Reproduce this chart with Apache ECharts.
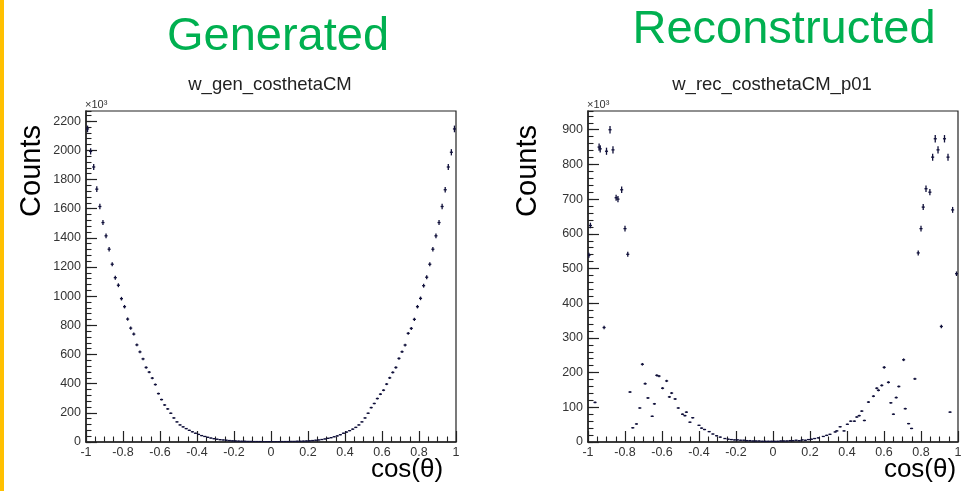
<!DOCTYPE html>
<html><head><meta charset="utf-8">
<script src="https://cdn.jsdelivr.net/npm/echarts@6/dist/echarts.min.js"></script>
<style>html,body{margin:0;padding:0;background:#fff}#c{width:965px;height:491px}</style>
</head><body><div id="c"></div>
<script>
// ---- data ----
const nBins = 120, xMin = -1, xMax = 1;
const genCounts = [
  2147, 1993, 1886, 1734, 1615, 1505, 1414, 1322, 1219, 1127,
  1075, 983, 928, 843, 781, 740, 666, 618, 570, 511,
  479, 438, 394, 332, 291, 254, 227, 197, 165, 138,
  117, 104, 92, 80, 70, 60, 52, 44, 38, 32,
  27, 23, 19, 16, 14, 12, 10, 8, 7, 6,
  5, 5, 4, 4, 3, 3, 3, 2, 2, 2,
  2, 2, 2, 3, 3, 3, 4, 4, 5, 5,
  6, 7, 8, 10, 12, 14, 17, 21, 25, 30,
  36, 42, 50, 60, 68, 78, 88, 100, 117, 138,
  165, 197, 236, 264, 298, 328, 355, 397, 440, 477,
  511, 573, 619, 665, 745, 779, 841, 928, 985, 1072,
  1130, 1219, 1322, 1414, 1505, 1615, 1730, 1886, 1987, 2147
];
const recX = [
  -0.995, -0.987, -0.962, -0.940, -0.934, -0.913, -0.900, -0.881, -0.865, -0.848,
  -0.838, -0.818, -0.800, -0.785, -0.773, -0.758, -0.738, -0.720, -0.706, -0.691,
  -0.676, -0.653, -0.641, -0.628, -0.616, -0.597, -0.575, -0.560, -0.548, -0.529,
  -0.512, -0.489, -0.476, -0.468, -0.449, -0.434, -0.400, -0.386, -0.370, -0.345,
  -0.325, -0.305, -0.285, -0.260, -0.242,
  -0.225, -0.208, -0.192, -0.175, -0.158, -0.142, -0.125, -0.108, -0.092, -0.075,
  -0.058, -0.042, -0.025, -0.008, 0.008, 0.025, 0.042, 0.058, 0.075, 0.092,
  0.108, 0.125, 0.142, 0.158, 0.175, 0.192, 0.208, 0.225,
  0.245, 0.272, 0.290, 0.308, 0.336, 0.345, 0.363, 0.384, 0.402, 0.420,
  0.440, 0.453, 0.466, 0.480, 0.494, 0.516, 0.543, 0.561, 0.570, 0.588,
  0.601, 0.624, 0.637, 0.651, 0.666, 0.680, 0.706, 0.715, 0.733, 0.749,
  0.767, 0.785, 0.800, 0.812, 0.827, 0.848, 0.863, 0.877, 0.892, 0.910,
  0.927, 0.946, 0.957, 0.971, 0.992
];
const recY = [
  538, 624, 114, 850, 845, 330, 838, 900, 842, 704,
  700, 727, 615, 541, 144, 41, 52, 98, 224, 168,
  127, 74, 110, 192, 190, 155, 176, 130, 141, 124,
  98, 80, 76, 86, 57, 70, 48, 40, 36, 30,
  23, 18, 14, 10, 8,
  7, 6, 6, 5, 5, 4, 4, 3, 3, 3,
  2, 2, 2, 2, 2, 2, 3, 3, 3, 4,
  4, 5, 4, 6, 5, 7, 8, 10,
  12, 16, 19, 22, 29, 32, 44, 32, 51, 60,
  60, 72, 76, 89, 62, 115, 132, 155, 149, 163,
  215, 172, 113, 80, 128, 160, 237, 96, 53, 39,
  182, 545, 615, 677, 730, 720, 821, 874, 842, 333,
  874, 821, 86, 669, 485
];
const genYMax = 2270, recYMax = 954;

// ---- build ----
const binW = (xMax - xMin) / nBins;
const genData = genCounts.map((v, i) => [xMin + binW * (i + 0.5), v]);
const recData = recX.map((x, i) => [x, recY[i]]);

const FONT = '"Liberation Sans", Arial, Helvetica, sans-serif';
const INK = '#10103a';

function crossItem(yMax, maxH) {
  return function (params, api) {
    const v = api.value(1);
    const p = api.coord([api.value(0), v]);
    const hw = Math.max(api.size([binW, 0])[0] / 2, 1.5);
    const hh = 0.5 + maxH * v / yMax;
    const st = { stroke: INK, lineWidth: 1.3 };
    return { type: 'group', children: [
      { type: 'line', shape: { x1: p[0] - hw, y1: p[1], x2: p[0] + hw, y2: p[1] }, style: st },
      { type: 'line', shape: { x1: p[0], y1: p[1] - hh, x2: p[0], y2: p[1] + hh }, style: st }
    ]};
  };
}

function xAx(g) {
  return {
    gridIndex: g, type: 'value', min: xMin, max: xMax, interval: 0.2,
    axisLine: { show: true, onZero: false, lineStyle: { color: '#222', width: 1.5 } },
    axisTick: { show: true, inside: true, length: 11, lineStyle: { color: '#222', width: 1.2 } },
    minorTick: { show: true, splitNumber: 4, length: 5.5, lineStyle: { color: '#222', width: 1.1 } },
    axisLabel: { color: '#333', fontSize: 12.5, margin: 4, fontFamily: FONT },
    splitLine: { show: false }, minorSplitLine: { show: false }
  };
}
function yAxMain(g, max, interval) {
  return {
    gridIndex: g, type: 'value', position: 'left', offset: 0, min: 0, max: max, interval: interval,
    axisLine: { show: true, onZero: false, lineStyle: { color: '#222', width: 1.5 } },
    axisTick: { show: true, inside: true, length: 11, lineStyle: { color: '#222', width: 1.2 } },
    axisLabel: { color: '#333', fontSize: 12.5, margin: 5, fontFamily: FONT, showMaxLabel: false,
                 formatter: v => String(Math.round(v)) },
    splitLine: { show: false }
  };
}
function yAxMinor(g, max, interval) {
  return {
    gridIndex: g, type: 'value', position: 'left', offset: 0, min: 0, max: max, interval: interval,
    axisLine: { show: false, onZero: false },
    axisTick: { show: true, inside: true, length: 5.5, lineStyle: { color: '#222', width: 1.1 } },
    axisLabel: { show: false }, splitLine: { show: false }
  };
}

const chart = echarts.init(document.getElementById('c'), null, { renderer: 'canvas' });
chart.setOption({
  animation: false,
  backgroundColor: '#fff',
  grid: [
    { left: 86, top: 111, width: 370, height: 331, show: true, borderColor: '#222', borderWidth: 1.2 },
    { left: 588, top: 111, width: 370, height: 331, show: true, borderColor: '#222', borderWidth: 1.2 }
  ],
  xAxis: [xAx(0), xAx(1)],
  yAxis: [
    yAxMain(0, genYMax, 200), yAxMinor(0, genYMax, 40),
    yAxMain(1, recYMax, 100), yAxMinor(1, recYMax, 20)
  ],
  series: [
    { type: 'custom', xAxisIndex: 0, yAxisIndex: 0, clip: true, data: genData, renderItem: crossItem(genYMax, 3) },
    { type: 'custom', xAxisIndex: 1, yAxisIndex: 2, clip: true, data: recData, renderItem: crossItem(recYMax, 3.5) }
  ],
  graphic: [
    { type: 'rect', shape: { x: 0, y: 0, width: 4, height: 491 }, style: { fill: '#FFC000' } },
    { type: 'text', x: 278, y: 37, style: { text: 'Generated', font: '47px ' + FONT, fill: '#00B050', align: 'center', verticalAlign: 'middle' } },
    { type: 'text', x: 784, y: 30, style: { text: 'Reconstructed', font: '47px ' + FONT, fill: '#00B050', align: 'center', verticalAlign: 'middle' } },
    { type: 'text', x: 270, y: 85, style: { text: 'w_gen_costhetaCM', font: '18.5px ' + FONT, fill: '#222', align: 'center', verticalAlign: 'middle' } },
    { type: 'text', x: 772, y: 85, style: { text: 'w_rec_costhetaCM_p01', font: '18.5px ' + FONT, fill: '#222', align: 'center', verticalAlign: 'middle' } },
    { type: 'text', x: 85, y: 105, style: { text: '×10³', font: '11px ' + FONT, fill: '#333', align: 'left', verticalAlign: 'middle' } },
    { type: 'text', x: 587, y: 105, style: { text: '×10³', font: '11px ' + FONT, fill: '#333', align: 'left', verticalAlign: 'middle' } },
    { type: 'text', x: 32, y: 171, rotation: Math.PI / 2, style: { text: 'Counts', font: '29px ' + FONT, fill: '#000', align: 'center', verticalAlign: 'middle' } },
    { type: 'text', x: 528, y: 171, rotation: Math.PI / 2, style: { text: 'Counts', font: '29px ' + FONT, fill: '#000', align: 'center', verticalAlign: 'middle' } },
    { type: 'text', x: 407, y: 470, style: { text: 'cos(θ)', font: '26px ' + FONT, fill: '#000', align: 'center', verticalAlign: 'middle' } },
    { type: 'text', x: 920, y: 470, style: { text: 'cos(θ)', font: '26px ' + FONT, fill: '#000', align: 'center', verticalAlign: 'middle' } }
  ]
});
</script>
</body></html>
